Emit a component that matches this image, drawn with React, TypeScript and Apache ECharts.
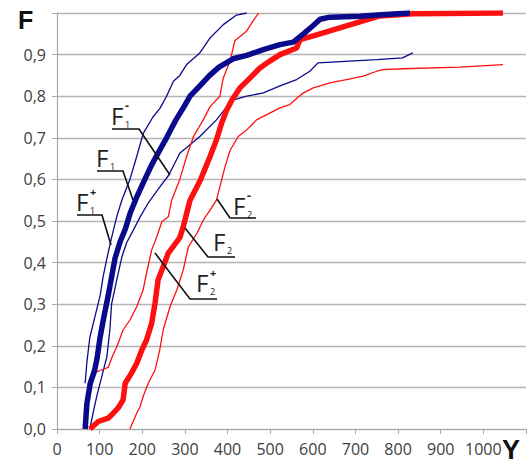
import React, { useEffect, useRef } from "react";
import * as echarts from "echarts";

// Empirical distribution curves: [Y, F]
const F1_MAIN: [number, number][] = [
  [66, 0], [70, 0.06], [78, 0.11], [88, 0.14], [94, 0.17], [101, 0.22], [110, 0.27], [120, 0.32],
  [128, 0.365], [136, 0.41], [148, 0.45], [160, 0.48], [172, 0.52], [188, 0.56], [206, 0.6],
  [222, 0.635], [238, 0.665], [257, 0.7], [280, 0.745], [298, 0.775], [312, 0.8], [335, 0.825],
  [358, 0.85], [380, 0.87], [413, 0.89], [445, 0.898], [484, 0.912], [523, 0.924], [554, 0.93],
  [578, 0.95], [601, 0.97], [617, 0.985], [640, 0.99], [711, 0.992], [760, 0.996], [828, 1.0],
];
const F1_PLUS: [number, number][] = [
  [66, 0.11], [70, 0.16], [77, 0.22], [89, 0.27], [101, 0.32], [108, 0.365], [117, 0.41],
  [128, 0.46], [140, 0.51], [152, 0.55], [171, 0.6], [187, 0.655], [202, 0.71], [225, 0.75],
  [241, 0.77], [257, 0.8], [273, 0.836], [288, 0.85], [304, 0.876], [335, 0.904], [359, 0.94],
  [390, 0.972], [421, 0.995], [445, 1.0],
];
const F1_MINUS: [number, number][] = [
  [77, 0], [85, 0.04], [93, 0.078], [105, 0.126], [117, 0.174], [124, 0.238], [128, 0.3],
  [140, 0.358], [152, 0.413], [163, 0.447], [179, 0.478], [195, 0.51], [215, 0.545], [240, 0.58],
  [262, 0.61], [288, 0.663], [335, 0.703], [374, 0.743], [410, 0.79], [445, 0.8], [484, 0.808],
  [523, 0.825], [562, 0.84], [593, 0.86], [612, 0.88], [750, 0.888], [810, 0.892], [835, 0.904],
];
const F2_MAIN: [number, number][] = [
  [77, 0], [97, 0.018], [120, 0.026], [132, 0.038], [143, 0.05], [155, 0.07], [160, 0.11],
  [175, 0.135], [187, 0.158], [199, 0.19], [210, 0.214], [222, 0.254], [230, 0.303], [237, 0.358],
  [249, 0.39], [261, 0.423], [272, 0.438], [288, 0.46], [296, 0.486], [304, 0.518], [312, 0.55],
  [337, 0.6], [359, 0.655], [374, 0.695], [386, 0.735], [398, 0.767], [410, 0.79], [429, 0.82],
  [453, 0.844], [476, 0.868], [500, 0.885], [523, 0.9], [562, 0.916], [570, 0.936], [601, 0.945],
  [640, 0.957], [679, 0.969], [718, 0.981], [757, 0.993], [835, 0.998], [1046, 1.0],
];
const F2_PLUS: [number, number][] = [
  [81, 0.135], [100, 0.14], [120, 0.148], [130, 0.175], [140, 0.197], [155, 0.238], [171, 0.262],
  [187, 0.294], [202, 0.334], [210, 0.375], [222, 0.43], [234, 0.462], [246, 0.498], [261, 0.51],
  [269, 0.55], [288, 0.6], [304, 0.655], [320, 0.703], [343, 0.743], [359, 0.775], [382, 0.8],
  [390, 0.844], [406, 0.885], [417, 0.933], [445, 0.957], [460, 0.981], [473, 1.0],
];
const F2_MINUS: [number, number][] = [
  [171, 0], [187, 0.038], [195, 0.054], [202, 0.078], [214, 0.11], [230, 0.142], [241, 0.19],
  [249, 0.238], [265, 0.294], [281, 0.334], [296, 0.382], [308, 0.438], [328, 0.47], [343, 0.502],
  [359, 0.526], [374, 0.55], [382, 0.582], [394, 0.63], [406, 0.67], [425, 0.703], [445, 0.719],
  [468, 0.743], [500, 0.76], [523, 0.772], [546, 0.78], [566, 0.798], [578, 0.808], [601, 0.82],
  [640, 0.832], [679, 0.84], [718, 0.848], [750, 0.86], [765, 0.864], [812, 0.866], [945, 0.87],
  [1046, 0.876],
];

const X_MAX = 1100;
const X_STEP = 100;
const Y_MAX = 1;
const Y_STEP = 0.1;
const AXIS_NAME_X = "Y";
const AXIS_NAME_Y = "F";

// annotation labels: base letter, subscript, superscript
const LABELS = [
  { sub: "1", sup: "-", fx: 111, fy: 115, ul: [[112, 129], [139, 129], [170, 175]] },
  { sub: "1", sup: "", fx: 96, fy: 157, ul: [[97, 171], [123, 171], [133, 200]] },
  { sub: "1", sup: "+", fx: 76, fy: 201, ul: [[77, 215], [102, 215], [111, 245]] },
  { sub: "2", sup: "-", fx: 233, fy: 205, ul: [[256, 218], [230, 218], [217, 199]] },
  { sub: "2", sup: "", fx: 213, fy: 241, ul: [[235, 257], [208, 257], [185, 228]] },
  { sub: "2", sup: "+", fx: 196, fy: 282, ul: [[217, 299], [190, 299], [155, 253]] },
];

export default function App() {
  const ref = useRef<HTMLDivElement>(null);
  useEffect(() => {
    if (!ref.current) return;
    const chart = echarts.init(ref.current, undefined, { renderer: "svg" });
    const BLUE = "#0a0a8c";
    const RED = "#ff1010";
    const thin = (name: string, data: [number, number][], color: string) => ({
      name, type: "line", data, symbol: "none", smooth: false,
      lineStyle: { color, width: 1.3 }, itemStyle: { color }, z: 2,
    });
    const thick = (name: string, data: [number, number][], color: string, z: number) => ({
      name, type: "line", data, symbol: "none", smooth: false,
      lineStyle: { color, width: 5.5 }, itemStyle: { color }, z,
    });
    const graphics: any[] = [];
    LABELS.forEach((l) => {
      graphics.push({
        type: "text", x: l.fx, y: l.fy, z: 10,
        style: { text: "F", fontSize: 24, fontFamily: "Open Sans", fill: "#222", verticalAlign: "middle" },
      });
      graphics.push({
        type: "text", x: l.fx + 14, y: l.fy + 9, z: 10,
        style: { text: l.sub, fontSize: 9, fontFamily: "Open Sans", fill: "#222", verticalAlign: "middle" },
      });
      if (l.sup) {
        graphics.push({
          type: "text", x: l.fx + 14, y: l.fy - 10, z: 10,
          style: { text: l.sup, fontSize: l.sup === "+" ? 11 : 12, fontWeight: "bold", fontFamily: "Open Sans", fill: "#222", verticalAlign: "middle" },
        });
      }
      graphics.push({
        type: "polyline", z: 10,
        shape: { points: l.ul },
        style: { stroke: "#111", lineWidth: 1.6, fill: null },
      });
    });
    graphics.push({
      type: "text", x: 18, y: 20, z: 10,
      style: { text: AXIS_NAME_Y, fontSize: 25, fontWeight: "bold", fontFamily: "Liberation Sans", fill: "#111", verticalAlign: "middle" },
    });
    graphics.push({
      type: "text", x: 502, y: 450, z: 10,
      style: { text: AXIS_NAME_X, fontSize: 27, fontWeight: "bold", fontFamily: "Liberation Sans", fill: "#111", verticalAlign: "middle" },
    });
    chart.setOption({
      animation: false,
      backgroundColor: "#fff",
      grid: { left: 57, right: 3, top: 13, bottom: 35, containLabel: false },
      xAxis: {
        type: "value", min: 0, max: X_MAX, interval: X_STEP,
        axisLine: { show: true, lineStyle: { color: "#a8a8a8", width: 1.2 } },
        axisTick: { show: true, length: 5, lineStyle: { color: "#a8a8a8" } },
        splitLine: { show: false },
        axisLabel: {
          formatter: (v: number) => (v >= X_MAX ? "" : String(v)),
          color: "#404040", fontSize: 16, fontFamily: "Open Sans", margin: 12,
        },
      },
      yAxis: {
        type: "value", min: 0, max: Y_MAX, interval: Y_STEP,
        axisLine: { show: true, lineStyle: { color: "#a8a8a8", width: 1.2 } },
        axisTick: { show: true, length: 5, lineStyle: { color: "#a8a8a8" } },
        splitLine: { show: true, lineStyle: { color: "#b4b4b4", width: 1.3 } },
        axisLabel: {
          formatter: (v: number) => (v >= Y_MAX - 1e-9 ? "" : v.toFixed(1).replace(".", ",")),
          color: "#404040", fontSize: 16, fontFamily: "Open Sans", margin: 11,
        },
      },
      series: [
        thin("F1+", F1_PLUS, BLUE),
        thin("F1-", F1_MINUS, BLUE),
        thin("F2+", F2_PLUS, RED),
        thin("F2-", F2_MINUS, RED),
        thick("F2", F2_MAIN, RED, 3),
        thick("F1", F1_MAIN, BLUE, 4),
      ],
      graphic: graphics,
    });
    return () => chart.dispose();
  }, []);
  return (
    <div
      ref={ref}
      style={{ position: "fixed", left: 0, top: 0, width: 529, height: 464, background: "#fff" }}
    />
  );
}
